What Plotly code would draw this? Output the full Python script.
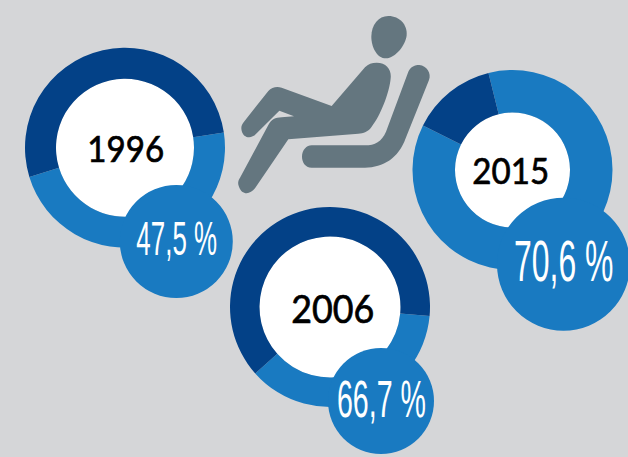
import re
import plotly.graph_objects as go

W, H = 628, 457

# Data
years = ["1996", "2006", "2015"]
labels = ["47,5 %", "66,7 %", "70,6 %"]
light_share = [47.7, 37.0, 86.2]      # drawn arc share of the lighter colour
dark_share = [52.3, 63.0, 13.8]

# Layout (pixels)
centers = [(125, 147.7), (330, 307), (512.5, 170)]
outer_r = [100, 100, 100]
inner_r = [69, 70.5, 57.5]
rotations = [81.3, 95.2, 346.1]
badges = [(176.3, 241.5, 56.5), (381, 401, 53), (563.5, 264.2, 66.5)]
year_sizes = [36, 38.5, 36]
label_sizes = [48, 51, 57]
label_scale = [0.54, 0.56, 0.56]
year_scale = [0.92, 0.93, 0.92]
year_pos = [(125.5, 148), (332.5, 308), (511, 170.5)]
label_pos = [(176.5, 238.5), (381.5, 399), (563.5, 260.5)]

BG = "#d5d6d8"
DARK = "#034187"
LIGHT = "#197ac1"
ICON = "#64767f"


def px(x):
    return x / W


def py(y):
    return 1 - y / H


def icon_path(d):
    # icon outlines are sketched in a 3x grid whose origin is (230, 10)
    out = []
    for tok in re.findall(r"[MCLZ]|-?\d+(?:\.\d+)?,-?\d+(?:\.\d+)?", d):
        if "," in tok:
            a, b = tok.split(",")
            out.append(f"{px(230 + float(a) / 3):.5f},{py(10 + float(b) / 3):.5f}")
        else:
            out.append(tok)
    return " ".join(out)


HEAD = "M475,18 C510,18 532,45 530,75 C528,105 495,145 468,145 C440,145 424,110 424,80 C424,45 445,18 475,18 Z"
BODY = ("M440,158 C470,158 485,180 482,205 C478,250 450,320 425,350 C415,365 400,370 385,371 "
        "L175,388 L75,535 C60,555 35,555 27,530 C22,520 25,510 30,503 L115,345 "
        "C125,328 135,323 155,322 L192,319 L148,302 L80,370 C65,388 40,385 35,362 "
        "C32,350 36,342 42,335 L115,243 C125,232 140,228 155,233 L305,288 L405,172 "
        "C415,162 425,158 440,158 Z")
SEAT = ("M245,406 L405,406 C435,406 455,395 468,365 L535,185 C542,170 555,165 568,165 "
        "C590,167 605,190 597,210 L527,385 C505,445 460,473 405,473 L245,473 "
        "C225,473 216,455 216,440 C216,420 230,406 245,406 Z")

fig = go.Figure()
shapes = []
annotations = []

for i, y in enumerate(years):
    cx, cy = centers[i]
    r, ri = outer_r[i], inner_r[i]
    fig.add_trace(go.Pie(
        values=[light_share[i], dark_share[i]],
        labels=["light", "dark"],
        domain=dict(x=[px(cx - r), px(cx + r)], y=[py(cy + r), py(cy - r)]),
        hole=ri / r,
        rotation=rotations[i],
        direction="clockwise",
        sort=False,
        textinfo="none",
        hoverinfo="skip",
        showlegend=False,
        marker=dict(colors=[LIGHT, DARK], line=dict(width=0)),
    ))
    shapes.append(dict(type="circle", xref="paper", yref="paper", layer="below",
                       x0=px(cx - ri), x1=px(cx + ri), y0=py(cy + ri), y1=py(cy - ri),
                       fillcolor="white", line=dict(width=0)))
    bx, by, br = badges[i]
    shapes.append(dict(type="circle", xref="paper", yref="paper", layer="above",
                       x0=px(bx - br), x1=px(bx + br), y0=py(by + br), y1=py(by - br),
                       fillcolor=LIGHT, line=dict(width=0)))
    annotations.append(dict(text=y, xref="paper", yref="paper", showarrow=False,
                            x=px(year_pos[i][0]), y=py(year_pos[i][1]),
                            xanchor="center", yanchor="middle",
                            font=dict(family="Lato", size=year_sizes[i], color="black")))
    annotations.append(dict(text=labels[i], xref="paper", yref="paper", showarrow=False,
                            x=px(label_pos[i][0]), y=py(label_pos[i][1]),
                            xanchor="center", yanchor="middle",
                            font=dict(family="Liberation Sans",
                                      size=label_sizes[i], color="white")))

for d in (HEAD, BODY, SEAT):
    shapes.append(dict(type="path", xref="paper", yref="paper", layer="below",
                       path=icon_path(d), fillcolor=ICON, line=dict(width=0)))

fig.update_layout(
    width=W, height=H, autosize=False,
    margin=dict(l=0, r=0, t=0, b=0, pad=0),
    paper_bgcolor=BG, plot_bgcolor=BG,
    showlegend=False,
    shapes=shapes, annotations=annotations,
)

scales = dict(zip(labels, label_scale)) | dict(zip(years, year_scale))
post = """
document.body.style.margin = '0';
var scales = %s;
document.querySelectorAll('.annotation-text').forEach(function (t) {
  var s = scales[t.textContent];
  if (!s) return;
  var x = parseFloat(t.getAttribute('x')) || 0;
  t.setAttribute('transform', 'translate(' + x + ',0) scale(' + s + ',1) translate(' + (-x) + ',0)');
  if (/^\\d{4}$/.test(t.textContent)) {
    t.style.stroke = 'black';
    t.style.strokeWidth = '0.7px';
  }
});
""" % (str(scales))

fig.write_html("out.html", post_script=post, config=dict(displayModeBar=False))
